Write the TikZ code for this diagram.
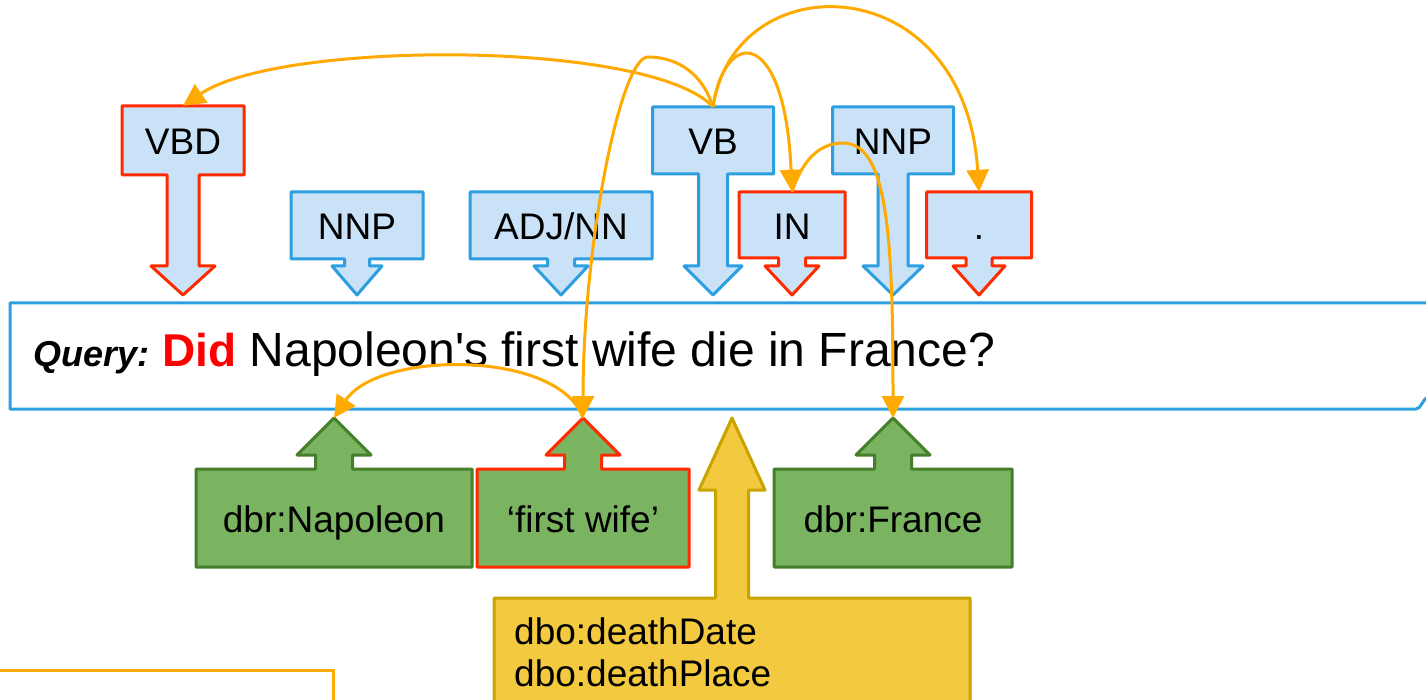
\documentclass[tikz,border=0pt]{standalone}
\usepackage{fontspec}
\usepackage{xcolor}
\usetikzlibrary{arrows.meta}
\newfontfamily\arialfont{Liberation Sans}

\definecolor{tagfill}{HTML}{C9E2F8}
\definecolor{tagblue}{HTML}{2D9FE0}
\definecolor{tagred}{HTML}{FF2A00}
\definecolor{entfill}{HTML}{7BB461}
\definecolor{entgreen}{HTML}{457F29}
\definecolor{relfill}{HTML}{F2C93F}
\definecolor{relborder}{HTML}{C9A300}
\definecolor{linkorange}{HTML}{FFAA00}
\definecolor{didred}{HTML}{FF0000}

\tikzset{
  postag/.style={fill=tagfill, draw=tagblue, line width=3pt, line join=round},
  keytag/.style={postag, draw=tagred},
  entity/.style={fill=entfill, draw=entgreen, line width=3pt, line join=round},
  keyentity/.style={entity, draw=tagred},
  relation/.style={fill=relfill, draw=relborder, line width=3pt, line join=round},
  tagtext/.style={inner sep=0pt, font=\arialfont\fontsize{37}{42}\selectfont},
  boxtext/.style={tagtext, text height=29pt, text depth=0pt},
  link/.style={draw=linkorange, line width=3pt, -{Triangle[width=22pt,length=22pt]}},
}

% box with an arrow down to the query: style, name, x, half width, top, bottom, stem half width, text
\newcommand{\tagdown}[8]{%
  \filldraw[#1] ({#3-#4},#5) -- ({#3+#4},#5) -- ({#3+#4},#6) -- ({#3+#7},#6)
    -- ({#3+#7},266) -- ({#3+2*#7},266) -- (#3,295) -- ({#3-2*#7},266)
    -- ({#3-#7},266) -- ({#3-#7},#6) -- ({#3-#4},#6) -- cycle;
  \node[boxtext, minimum width={2*#4}, minimum height={#6-#5}] (#2) at (#3,{(#5+#6)/2}) {#8};
  \coordinate (#2tip) at (#3,295);
}
% box with an arrow up to the query: style, name, x, half width, top, bottom, stem half width, head, text
\newcommand{\tagup}[9]{%
  \filldraw[#1] ({#3-#4},#6) -- ({#3-#4},#5) -- ({#3-#7},#5) -- ({#3-#7},#8)
    -- ({#3-2*#7},#8) -- (#3,418) -- ({#3+2*#7},#8) -- ({#3+#7},#8)
    -- ({#3+#7},#5) -- ({#3+#4},#5) -- ({#3+#4},#6) -- cycle;
  \node[boxtext, minimum width={2*#4}, minimum height={#6-#5}] (#2) at (#3,{(#5+#6)/2}) {#9};
  \coordinate (#2tip) at (#3,418);
}

\begin{document}
\begin{tikzpicture}[x=1pt, y=-1pt]
  \useasboundingbox (0,0) rectangle (1426,700);

  % query
  \filldraw[fill=white, draw=tagblue, line width=3pt, line join=round] (1440,303) -- (10,303) -- (10,409) -- (1416,409) .. controls (1422,409) and (1421,399) .. (1430,396);
  \node[anchor=base west, inner sep=0pt, font=\arialfont\fontsize{48}{56}\selectfont] (query) at (33,366)
    {{\fontsize{36}{40}\selectfont\bfseries\itshape Query:}\hspace{13pt}{\color{didred}\fontsize{46}{50}\selectfont\bfseries Did} Napoleon's first wife die in France?};

  % part of speech tags
  \tagdown{keytag}{vbd}{183}{61}{106}{175}{16}{VBD}
  \tagdown{postag}{nnpa}{357}{66}{192}{259}{12.5}{NNP}
  \tagdown{postag}{adjnn}{561}{91}{192}{259}{13.5}{ADJ/NN}
  \tagdown{postag}{vb}{713}{60.5}{107}{174}{14.5}{VB}
  \tagdown{keytag}{prep}{792}{53}{192}{258}{13.5}{IN}
  \tagdown{postag}{nnpb}{893}{60.5}{107}{174}{15}{NNP}
  \tagdown{keytag}{punct}{979}{52.5}{192}{258}{13}{.}

  % entities and relations
  \tagup{entity}{napoleon}{334}{138}{469}{567}{18.5}{455}{dbr:Napoleon}
  \tagup{keyentity}{wife}{583}{106}{469}{567}{18.5}{455}{‘first wife’}
  \tagup{entity}{france}{893}{119}{469}{567}{18.5}{455}{dbr:France}
  \tagup{relation}{death}{732}{238}{598}{714}{16.5}{490}{}
  \node[tagtext, anchor=north west, align=left] (deathprops) at (514,617) {dbo:deathDate\\dbo:deathPlace};

  \filldraw[fill=white, draw=linkorange, line width=3pt] (-10,670) -- (333,670) -- (333,720) -- (-10,720);

  % dependencies
  \draw[link] (vb.north) .. controls +(-63,-67) and +(97,-66) .. (vbd.north);
  \draw[link] (vb.north) .. controls +(-13,-40) and +(22,0) .. (648,57) .. controls +(-28,0) and +(0,-170) .. (wifetip);
  \draw[link] (vb.north) .. controls +(12,-80) and +(-7,-165) .. (prep.north);
  \draw[link] (vb.north) .. controls +(22,-145) and +(-14,-225) .. (punct.north);
  \draw[link] (prep.north) .. controls +(10,-30) and +(-25,0) .. (843,143) .. controls +(45,0) and +(0,-180) .. (francetip);
  \draw[link] (wifetip) .. controls +(-23,-68) and +(45,-68) .. (napoleontip);
\end{tikzpicture}
\end{document}
